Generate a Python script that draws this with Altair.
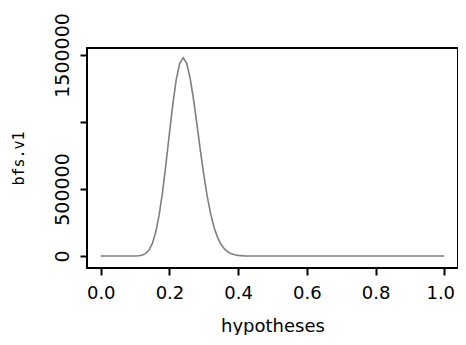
import altair as alt
import pandas as pd

hypotheses = [round(i * 0.01, 2) for i in range(101)]

# bfs.v1 values (0.00 .. 1.00 by 0.01)
peak_part = {
    0.08: 11, 0.09: 78, 0.10: 420, 0.11: 1780, 0.12: 6080, 0.13: 17400,
    0.14: 42900, 0.15: 92300, 0.16: 176700, 0.17: 304600, 0.18: 478000,
    0.19: 688800, 0.20: 917600, 0.21: 1137600, 0.22: 1320000, 0.23: 1438000,
    0.24: 1478600, 0.25: 1439600, 0.26: 1330000, 0.27: 1170000, 0.28: 982000,
    0.29: 788000, 0.30: 605000, 0.31: 445000, 0.32: 314000, 0.33: 213000,
    0.34: 139000, 0.35: 87500, 0.36: 53000, 0.37: 30900, 0.38: 17400,
    0.39: 9400, 0.40: 4900, 0.41: 2500, 0.42: 1200, 0.43: 560, 0.44: 250,
    0.45: 110, 0.46: 45, 0.47: 18, 0.48: 7,
}
bfs_v1 = [peak_part.get(h, 0) for h in hypotheses]

x_ticks = [0.0, 0.2, 0.4, 0.6, 0.8, 1.0]
y_ticks = [0, 500000, 1000000, 1500000]

df = pd.DataFrame({"hypotheses": hypotheses, "bfs.v1": bfs_v1})

FONT = "DejaVu Sans"

chart = alt.Chart(df).mark_line(color="#7f7f7f", strokeWidth=1.6).encode(
    x=alt.X("hypotheses:Q",
            scale=alt.Scale(domain=[-0.04, 1.04], nice=False, zero=False),
            axis=alt.Axis(values=x_ticks, format=".1f", title="hypotheses",
                          titlePadding=15, labelPadding=9, labelFontSize=18,
                          labelOffset={"condition": {"test": "datum.value == 1", "value": -4},
                                       "value": 0})),
    y=alt.Y("bfs\\.v1:Q",
            scale=alt.Scale(domain=[-89500, 1552000], nice=False, zero=False),
            axis=alt.Axis(values=y_ticks, format="d", title="bfs.v1",
                          labelExpr="datum.value == 1000000 ? '' : datum.label",
                          labelAngle=270, labelAlign="center",
                          labelBaseline="bottom", labelPadding=8,
                          titleFont="DejaVu Sans Mono", titleFontSize=15,
                          titlePadding=27)),
).properties(
    width=371, height=220,
    padding={"left": 79, "top": 40, "right": 0, "bottom": 67},
    autosize=alt.AutoSizeParams(type="none"),
).configure_view(
    stroke="black", strokeWidth=2
).configure_axis(
    grid=False, domain=False,
    tickColor="black", tickWidth=2, tickSize=7,
    labelFont=FONT, titleFont=FONT, labelFontSize=19, titleFontSize=18,
    labelColor="black", titleColor="black", titleFontWeight="normal",
    labelFlush=False, labelOverlap=False,
)

chart.save("out.html", embed_options={"renderer": "svg", "actions": False})
